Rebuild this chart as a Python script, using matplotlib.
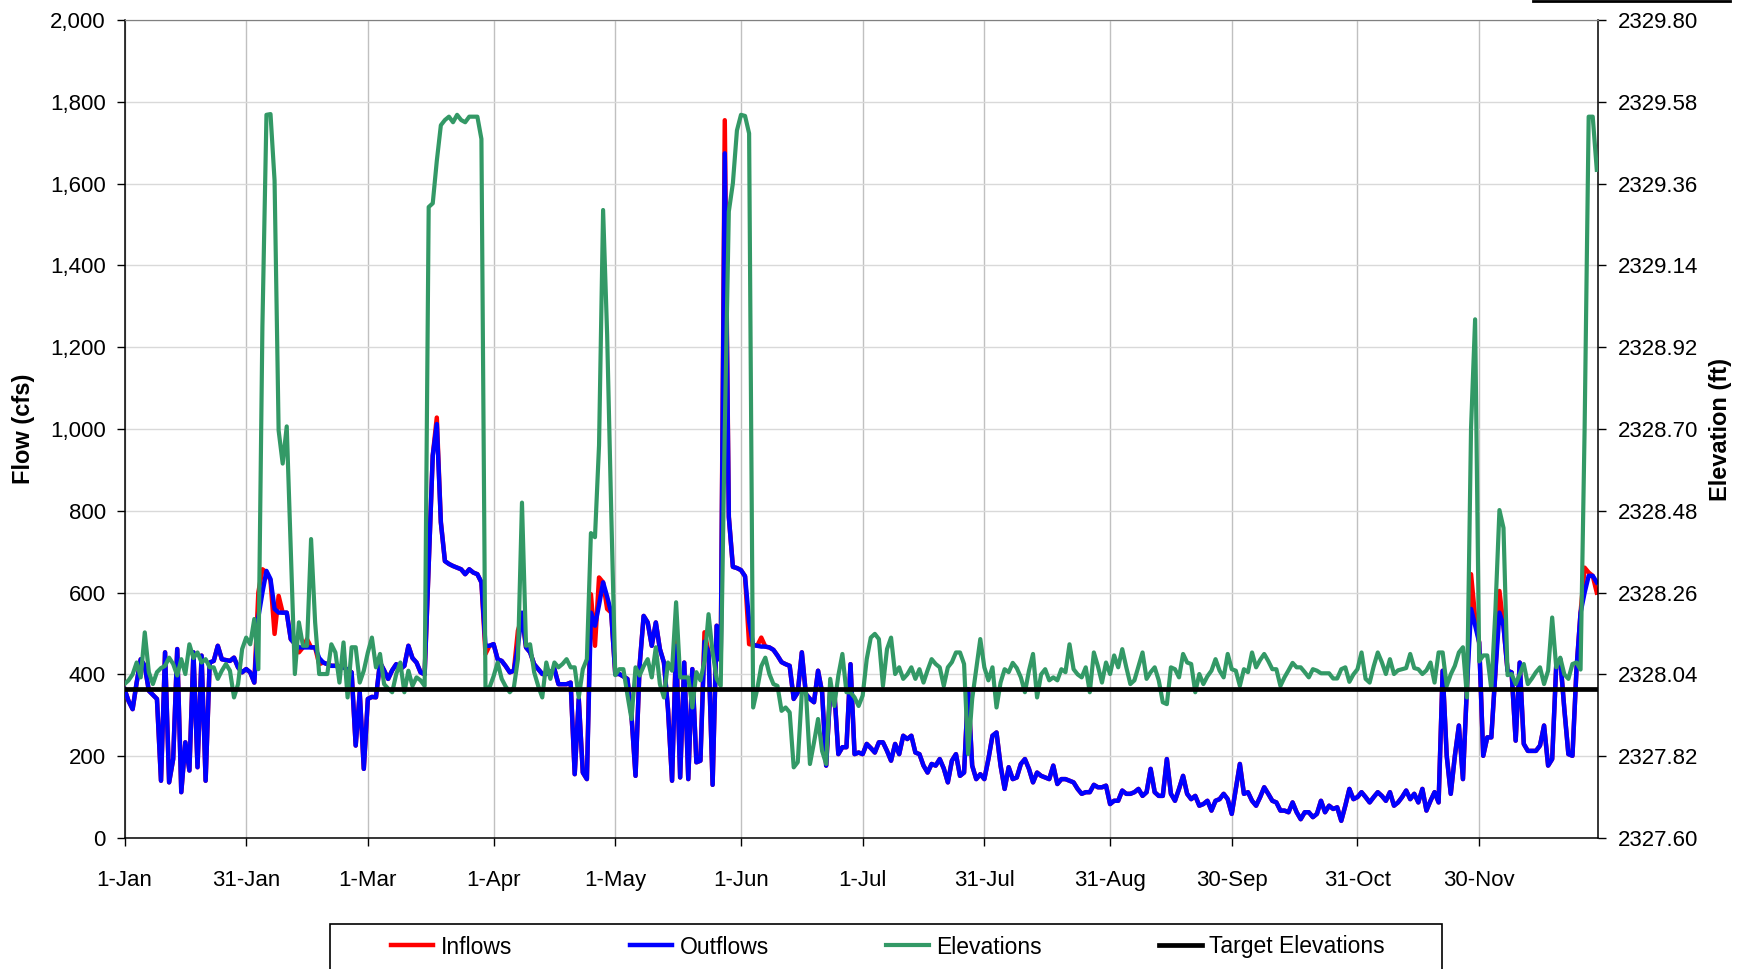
import matplotlib
matplotlib.use('Agg')
import matplotlib.pyplot as plt
from matplotlib.ticker import FuncFormatter, FormatStrFormatter
from matplotlib.lines import Line2D
from matplotlib.patches import Rectangle
import pandas as pd

plt.rcParams['font.family'] = ['Liberation Sans', 'DejaVu Sans']

# daily values (cfs), 1-Jan .. 29-Dec
outflows = [
    364, 335, 315, 380, 437, 421, 360, 350, 340, 140,
    454, 136, 193, 462, 112, 234, 165, 454, 173, 446,
    140, 429, 433, 470, 437, 435, 433, 441, 417, 405,
    413, 405, 380, 540, 600, 653, 633, 560, 551, 551,
    551, 486, 475, 466, 466, 466, 466, 466, 440, 429,
    425, 421, 421, 419, 417, 412, 405, 226, 356, 169,
    340, 345, 344, 429, 410, 389, 410, 425, 413, 421,
    470, 440, 429, 405, 400, 670, 935, 1012, 772, 677,
    670, 665, 661, 657, 645, 657, 649, 645, 625, 470,
    470, 474, 437, 433, 420, 405, 409, 470, 551, 466,
    454, 425, 413, 401, 401, 405, 413, 376, 376, 376,
    380, 156, 340, 160, 144, 551, 519, 570, 625, 590,
    551, 401, 401, 395, 389, 299, 152, 421, 543, 527,
    470, 527, 462, 429, 315, 140, 470, 148, 429, 144,
    413, 185, 189, 480, 454, 130, 519, 433, 1674, 785,
    663, 660, 655, 640, 530, 472, 470, 468, 468, 466,
    460, 446, 430, 425, 421, 340, 356, 454, 352, 340,
    332, 409, 356, 177, 360, 360, 205, 222, 222, 425,
    205, 209, 205, 230, 220, 209, 234, 234, 213, 189,
    230, 205, 250, 242, 250, 209, 205, 177, 160, 181,
    177, 193, 170, 136, 189, 205, 152, 160, 364, 177,
    144, 156, 144, 193, 250, 258, 177, 120, 173, 144,
    148, 181, 193, 169, 136, 160, 152, 148, 144, 177,
    132, 144, 144, 140, 136, 120, 108, 112, 112, 130,
    124, 124, 128, 83, 91, 91, 116, 108, 108, 112,
    120, 103, 112, 169, 112, 103, 103, 193, 108, 91,
    120, 152, 108, 95, 103, 79, 83, 91, 67, 91,
    95, 108, 95, 59, 120, 181, 108, 112, 91, 79,
    100, 124, 108, 91, 87, 67, 67, 63, 87, 63,
    46, 63, 63, 51, 59, 91, 63, 79, 71, 75,
    42, 79, 120, 95, 100, 112, 100, 87, 100, 112,
    103, 91, 112, 79, 87, 100, 116, 95, 108, 87,
    120, 67, 91, 112, 87, 409, 201, 108, 200, 275,
    144, 372, 560, 520, 478, 201, 246, 246, 405, 551,
    519, 409, 405, 238, 429, 230, 213, 213, 213, 226,
    275, 177, 193, 421, 437, 315, 205, 201, 413, 551,
    600, 641, 641, 625]

inflows = [
    364, 335, 315, 380, 437, 421, 360, 350, 340, 140,
    454, 136, 193, 462, 112, 234, 165, 454, 173, 446,
    140, 429, 433, 470, 437, 435, 433, 441, 417, 405,
    413, 405, 380, 600, 657, 650, 630, 499, 592, 551,
    551, 486, 475, 454, 466, 486, 466, 466, 425, 429,
    425, 421, 421, 419, 417, 412, 405, 226, 356, 169,
    340, 345, 344, 429, 410, 389, 410, 425, 413, 421,
    470, 440, 429, 405, 400, 670, 935, 1028, 772, 677,
    670, 665, 661, 657, 645, 657, 649, 645, 625, 450,
    470, 474, 437, 433, 420, 405, 409, 507, 540, 466,
    454, 425, 413, 401, 401, 405, 413, 376, 376, 376,
    380, 156, 340, 160, 144, 596, 470, 637, 625, 560,
    551, 401, 401, 395, 389, 299, 152, 421, 543, 527,
    470, 527, 462, 429, 315, 140, 486, 148, 429, 144,
    413, 185, 189, 503, 454, 130, 519, 433, 1755, 785,
    663, 660, 655, 640, 474, 472, 470, 490, 468, 466,
    460, 446, 430, 425, 421, 340, 356, 454, 352, 340,
    332, 409, 356, 177, 360, 360, 205, 222, 222, 425,
    205, 209, 205, 230, 220, 209, 234, 234, 213, 189,
    230, 205, 250, 242, 250, 209, 205, 177, 160, 181,
    177, 193, 170, 136, 189, 205, 152, 160, 364, 177,
    144, 156, 144, 193, 250, 258, 177, 120, 173, 144,
    148, 181, 193, 169, 136, 160, 152, 148, 144, 177,
    132, 144, 144, 140, 136, 120, 108, 112, 112, 130,
    124, 124, 128, 83, 91, 91, 116, 108, 108, 112,
    120, 103, 112, 169, 112, 103, 103, 193, 108, 91,
    120, 152, 108, 95, 103, 79, 83, 91, 67, 91,
    95, 108, 95, 59, 120, 181, 108, 112, 91, 79,
    100, 124, 108, 91, 87, 67, 67, 63, 87, 63,
    46, 63, 63, 51, 59, 91, 63, 79, 71, 75,
    42, 79, 120, 95, 100, 112, 100, 87, 100, 112,
    103, 91, 112, 79, 87, 100, 116, 95, 108, 87,
    120, 67, 91, 112, 87, 409, 201, 108, 200, 275,
    144, 372, 645, 540, 478, 201, 246, 246, 405, 604,
    519, 409, 405, 238, 429, 230, 213, 213, 213, 226,
    275, 177, 193, 421, 437, 315, 205, 201, 413, 551,
    661, 649, 641, 600]

# reservoir elevation (ft)
elevations = [
    2328.014, 2328.024, 2328.040, 2328.072, 2328.032, 2328.153, 2328.046, 2328.014, 2328.046, 2328.057,
    2328.063, 2328.085, 2328.068, 2328.037, 2328.081, 2328.041, 2328.121, 2328.084, 2328.099, 2328.072,
    2328.081, 2328.059, 2328.059, 2328.028, 2328.050, 2328.068, 2328.050, 2327.978, 2328.014, 2328.108,
    2328.139, 2328.121, 2328.189, 2328.054, 2328.975, 2329.545, 2329.547, 2329.368, 2328.696, 2328.607,
    2328.707, 2328.370, 2328.041, 2328.180, 2328.117, 2328.117, 2328.404, 2328.180, 2328.041, 2328.041,
    2328.041, 2328.121, 2328.099, 2328.018, 2328.126, 2327.978, 2328.113, 2328.113, 2328.018, 2328.050,
    2328.099, 2328.139, 2328.059, 2328.095, 2328.014, 2328.002, 2327.992, 2328.041, 2328.072, 2327.992,
    2328.050, 2328.009, 2328.032, 2328.024, 2328.009, 2329.297, 2329.307, 2329.421, 2329.517, 2329.531,
    2329.540, 2329.525, 2329.545, 2329.531, 2329.525, 2329.540, 2329.540, 2329.540, 2329.480, 2328.005,
    2328.005, 2328.035, 2328.072, 2328.028, 2328.007, 2327.992, 2328.005, 2328.081, 2328.502, 2328.117,
    2328.121, 2328.046, 2328.009, 2327.978, 2328.072, 2328.028, 2328.072, 2328.059, 2328.068, 2328.081,
    2328.059, 2328.059, 2327.978, 2328.054, 2328.081, 2328.420, 2328.409, 2328.656, 2329.289, 2328.953,
    2328.480, 2328.038, 2328.054, 2328.054, 2327.985, 2327.920, 2328.059, 2328.037, 2328.062, 2328.081,
    2328.032, 2328.113, 2328.014, 2327.978, 2328.072, 2328.050, 2328.234, 2328.032, 2328.032, 2328.032,
    2327.951, 2328.046, 2328.024, 2328.076, 2328.202, 2328.099, 2328.028, 2328.009, 2328.700, 2329.285,
    2329.361, 2329.503, 2329.545, 2329.542, 2329.495, 2327.951, 2328.000, 2328.062, 2328.085, 2328.041,
    2328.014, 2328.009, 2327.942, 2327.951, 2327.938, 2327.790, 2327.804, 2327.992, 2327.996, 2327.799,
    2327.857, 2327.920, 2327.834, 2327.799, 2328.028, 2327.955, 2328.037, 2328.095, 2327.992, 2327.992,
    2327.978, 2327.955, 2327.983, 2328.081, 2328.139, 2328.149, 2328.135, 2328.009, 2328.108, 2328.139,
    2328.041, 2328.059, 2328.028, 2328.040, 2328.059, 2328.028, 2328.054, 2328.018, 2328.051, 2328.081,
    2328.068, 2328.059, 2328.009, 2328.059, 2328.073, 2328.099, 2328.099, 2328.068, 2327.826, 2327.974,
    2328.054, 2328.135, 2328.059, 2328.024, 2328.059, 2327.951, 2328.018, 2328.054, 2328.046, 2328.071,
    2328.057, 2328.032, 2327.992, 2328.050, 2328.095, 2327.978, 2328.040, 2328.054, 2328.024, 2328.032,
    2328.024, 2328.054, 2328.046, 2328.121, 2328.054, 2328.040, 2328.032, 2328.059, 2327.992, 2328.099,
    2328.062, 2328.018, 2328.072, 2328.041, 2328.091, 2328.059, 2328.108, 2328.059, 2328.014, 2328.024,
    2328.062, 2328.099, 2328.028, 2328.046, 2328.059, 2328.024, 2327.965, 2327.960, 2328.059, 2328.054,
    2328.032, 2328.095, 2328.072, 2328.068, 2327.992, 2328.041, 2328.014, 2328.035, 2328.050, 2328.081,
    2328.050, 2328.032, 2328.095, 2328.054, 2328.050, 2328.009, 2328.054, 2328.046, 2328.099, 2328.059,
    2328.079, 2328.095, 2328.076, 2328.054, 2328.054, 2328.009, 2328.032, 2328.051, 2328.071, 2328.059,
    2328.059, 2328.046, 2328.032, 2328.054, 2328.050, 2328.043, 2328.043, 2328.043, 2328.029, 2328.029,
    2328.054, 2328.059, 2328.020, 2328.040, 2328.054, 2328.099, 2328.028, 2328.018, 2328.062, 2328.099,
    2328.073, 2328.041, 2328.081, 2328.041, 2328.051, 2328.054, 2328.057, 2328.095, 2328.057, 2328.054,
    2328.041, 2328.051, 2328.072, 2328.018, 2328.099, 2328.099, 2328.009, 2328.040, 2328.063, 2328.099,
    2328.113, 2327.978, 2328.703, 2328.995, 2328.075, 2328.091, 2328.091, 2328.000, 2328.211, 2328.482,
    2328.434, 2328.038, 2328.041, 2328.014, 2328.040, 2328.068, 2328.014, 2328.029, 2328.046, 2328.059,
    2328.014, 2328.050, 2328.193, 2328.059, 2328.085, 2328.040, 2328.028, 2328.068, 2328.072, 2328.053,
    2328.700, 2329.540, 2329.540, 2329.397]

target_elevation = 2328.00

tick_dates = ['2008-01-01', '2008-01-31', '2008-03-01', '2008-04-01', '2008-05-01', '2008-06-01',
              '2008-07-01', '2008-07-31', '2008-08-31', '2008-09-30', '2008-10-31', '2008-11-30']
tick_labels = ['1-Jan', '31-Jan', '1-Mar', '1-Apr', '1-May', '1-Jun',
               '1-Jul', '31-Jul', '31-Aug', '30-Sep', '31-Oct', '30-Nov']
flow_ticks = [0, 200, 400, 600, 800, 1000, 1200, 1400, 1600, 1800, 2000]
elev_ticks = [2327.60, 2327.82, 2328.04, 2328.26, 2328.48, 2328.70,
              2328.92, 2329.14, 2329.36, 2329.58, 2329.80]

dates = pd.date_range('2008-01-01', periods=len(outflows), freq='D')

W, H = 1743, 969
fig = plt.figure(figsize=(W / 100, H / 100), dpi=100)
ax = fig.add_axes([124.5 / W, 1 - 838 / H, (1598 - 124.5) / W, (838 - 20) / H])
ax2 = ax.twinx()

l_in, = ax.plot(dates, inflows, color='#ff0000', lw=3.2, solid_joinstyle='round', zorder=3)
l_out, = ax.plot(dates, outflows, color='#0000ff', lw=3.2, solid_joinstyle='round', zorder=4)
l_el, = ax2.plot(dates, elevations, color='#339966', lw=3.0, solid_joinstyle='round', zorder=3)
l_tg = ax2.axhline(target_elevation, color='black', lw=3.4, zorder=4)

ax.set_xlim(dates[0], dates[0] + pd.Timedelta(days=363.3))
ax.set_ylim(0, 2000)
ax2.set_ylim(2327.60, 2329.80)

ax.set_xticks(pd.to_datetime(tick_dates))
ax.set_xticklabels(tick_labels)
ax.set_yticks(flow_ticks)
ax.yaxis.set_major_formatter(FuncFormatter(lambda v, p: f'{v:,.0f}'))
ax2.set_yticks(elev_ticks)
ax2.yaxis.set_major_formatter(FormatStrFormatter('%.2f'))

ax.set_axisbelow(True)
ax.grid(axis='x', color='#c0c0c0', lw=1.0)
ax.grid(axis='y', color='#d9d9d9', lw=1.0)

ax.tick_params(axis='x', direction='out', length=6, width=1, pad=17, labelsize=16)
ax.tick_params(axis='y', direction='out', length=5.5, width=1, pad=8, labelsize=16)
ax2.tick_params(axis='y', direction='out', length=6, width=1, pad=8, labelsize=16)

for s in ['left', 'bottom']:
    ax.spines[s].set_color('black')
    ax.spines[s].set_linewidth(1.1)
ax.spines['right'].set_visible(False)
ax.spines['top'].set_color('#808080')
for s in ['left', 'bottom']:
    ax2.spines[s].set_visible(False)
ax2.spines['top'].set_color('#808080')
ax2.spines['right'].set_color('black')
ax2.spines['right'].set_linewidth(1.1)

ax.set_ylabel('Flow (cfs)', fontsize=17, fontweight='bold')
ax.yaxis.set_label_coords(-0.061, 0.5)
ax2.set_ylabel('Elevation (ft)', fontsize=17, fontweight='bold')
ax2.yaxis.set_label_coords(1.075, 0.5)

# legend
fig.legend([l_in, l_out, l_el, l_tg], ['Inflows', 'Outflows', 'Elevations', 'Target Elevations'],
           loc='center', bbox_to_anchor=(391 / W, 1 - 947 / H - 0.005, (1385 - 391) / W, 0.01),
           mode='expand', ncol=4, frameon=False, fontsize=16.5, handlelength=1.85,
           handletextpad=0.33, borderpad=0, borderaxespad=0)
fig.add_artist(Rectangle((330 / W, -0.02), (1442 - 330) / W, (1 - 924 / H) + 0.02,
                         transform=fig.transFigure, fill=False, edgecolor='black', lw=1.2))
fig.add_artist(Line2D([1533 / W, 1730 / W], [0.999, 0.999], transform=fig.transFigure,
                      color='black', lw=2))

plt.savefig('out.png', dpi=100)
